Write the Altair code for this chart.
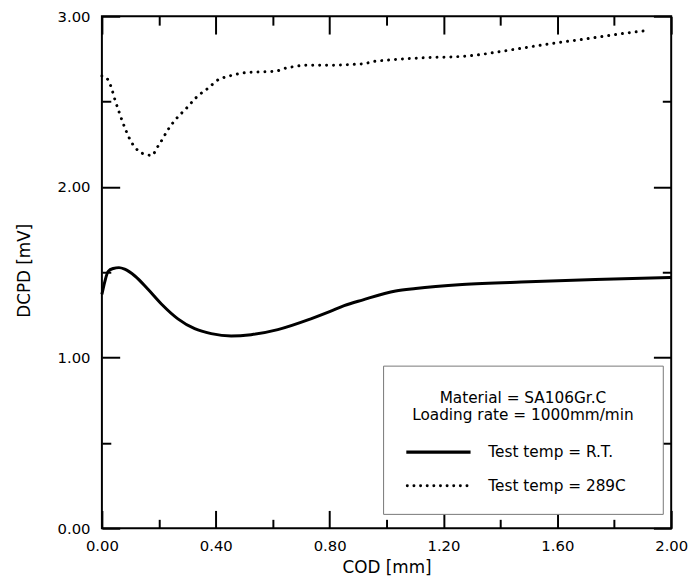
import altair as alt
import pandas as pd

# ---- data ----
cod_rt = [0.0, 0.011, 0.022, 0.04, 0.06, 0.08, 0.116, 0.162, 0.209, 0.267, 0.326,
          0.384, 0.454, 0.524, 0.618, 0.734, 0.80, 0.851, 0.915, 1.032, 1.102,
          1.266, 1.499, 1.733, 2.0]
dcpd_rt = [1.37, 1.45, 1.505, 1.522, 1.527, 1.518, 1.478, 1.40, 1.314, 1.227, 1.169,
           1.14, 1.126, 1.134, 1.164, 1.227, 1.269, 1.304, 1.337, 1.39, 1.405,
           1.428, 1.444, 1.457, 1.469]

cod_289 = [0.0, 0.005, 0.022, 0.032, 0.046, 0.063, 0.081, 0.102, 0.116, 0.133, 0.156,
           0.177, 0.191, 0.205, 0.232, 0.261, 0.297, 0.332, 0.372, 0.413, 0.437,
           0.46, 0.486, 0.512, 0.565, 0.615, 0.641, 0.667, 0.717, 0.80, 0.869,
           0.925, 0.948, 0.997, 1.079, 1.149, 1.231, 1.283, 1.336, 1.406, 1.464,
           1.54, 1.616, 1.686, 1.768, 1.849, 1.919]
dcpd_289 = [2.65, 2.649, 2.626, 2.587, 2.51, 2.426, 2.345, 2.267, 2.233, 2.205, 2.19,
            2.184, 2.223, 2.258, 2.335, 2.399, 2.461, 2.525, 2.577, 2.632, 2.645,
            2.655, 2.665, 2.671, 2.674, 2.68, 2.694, 2.703, 2.713, 2.713, 2.717,
            2.723, 2.733, 2.742, 2.752, 2.758, 2.762, 2.767, 2.777, 2.795, 2.81,
            2.83, 2.849, 2.864, 2.884, 2.903, 2.917]

x_major = [0.0, 0.4, 0.8, 1.2, 1.6, 2.0]
x_minor = [0.2, 0.6, 1.0, 1.4, 1.8]
y_major = [0.0, 1.0, 2.0, 3.0]
y_minor = [0.5, 1.5, 2.5]

x_title = "COD [mm]"
y_title = "DCPD [mV]"
legend_title = ["Material = SA106Gr.C", "Loading rate = 1000mm/min"]
series_labels = ["Test temp = R.T.", "Test temp = 289C"]

# ---- chart ----
W, H = 576, 518
FONT = "DejaVu Sans"
FS_TICK = 15
FS_TITLE = 17
FS_LEG = 15.5

rt = pd.DataFrame({"cod": cod_rt, "dcpd": dcpd_rt})
hot = pd.DataFrame({"cod": cod_289, "dcpd": dcpd_289})
one = pd.DataFrame({"k": [0]})

xs = alt.Scale(domain=[0, 2], nice=False, zero=False)
ys = alt.Scale(domain=[0, 3], nice=False, zero=False)


def tick_axis(orient, values, size, offset):
    return alt.Axis(orient=orient, values=values, tickSize=size, tickWidth=2,
                    tickColor="black", ticks=True, labels=False, domain=False,
                    grid=False, title=None, offset=offset)


def tick_layer(xaxis, yaxis):
    return alt.Chart(rt).mark_line(opacity=0).encode(
        x=alt.X("cod:Q", scale=xs, axis=xaxis),
        y=alt.Y("dcpd:Q", scale=ys, axis=yaxis),
    )


solid = alt.Chart(rt).mark_line(color="black", strokeWidth=3, interpolate="monotone").encode(
    x=alt.X("cod:Q", scale=xs,
            axis=alt.Axis(orient="bottom", values=x_major, format=".2f", title=x_title,
                          ticks=False, tickSize=0, domain=False, grid=False,
                          labelPadding=11, labelFlush=False,
                          titleX=W / 2, titleY=40, titleBaseline="middle")),
    y=alt.Y("dcpd:Q", scale=ys,
            axis=alt.Axis(orient="left", values=y_major, format=".2f", title=y_title,
                          ticks=False, tickSize=0, domain=False, grid=False,
                          labelPadding=12, labelFlush=False,
                          titleX=-78, titleY=H / 2 - 2, titleBaseline="middle",
                          titleAngle=270)),
)

dotted = alt.Chart(hot).mark_line(color="black", strokeWidth=3, strokeDash=[0.01, 7],
                                  strokeCap="round", interpolate="monotone").encode(
    x=alt.X("cod:Q", scale=xs, axis=tick_axis("top", x_major, 18, -H)),
    y=alt.Y("dcpd:Q", scale=ys, axis=tick_axis("right", y_major, 18, -W)),
)

ticks = [
    tick_layer(tick_axis("top", x_minor, 9, -H), tick_axis("right", y_minor, 9, -W)),
    tick_layer(tick_axis("bottom", x_major, 18, -H), tick_axis("left", y_major, 18, -W)),
    tick_layer(tick_axis("bottom", x_minor, 9, -H), tick_axis("left", y_minor, 9, -W)),
]

box = alt.Chart(one).mark_rect(fill="white", stroke="#777777", strokeWidth=1).encode(
    x=alt.value(285), x2=alt.value(568), y=alt.value(354), y2=alt.value(504))


def legend_text(txt, x, y, align):
    return alt.Chart(one).mark_text(align=align, baseline="middle", font=FONT,
                                    fontSize=FS_LEG, color="black").encode(
        x=alt.value(x), y=alt.value(y), text=alt.value(txt))


title1 = legend_text(legend_title[0], 426, 386.5, "center")
title2 = legend_text(legend_title[1], 426, 404, "center")
lab1 = legend_text(series_labels[0], 391, 441, "left")
lab2 = legend_text(series_labels[1], 391, 475.5, "left")

sample1 = alt.Chart(one).mark_rule(color="black", strokeWidth=3.5).encode(
    x=alt.value(308), x2=alt.value(373), y=alt.value(441))
sample2 = alt.Chart(one).mark_rule(color="black", strokeWidth=3, strokeDash=[0.01, 6.7],
                                   strokeCap="round").encode(
    x=alt.value(309), x2=alt.value(370), y=alt.value(475))

chart = alt.layer(
    *ticks, solid, dotted, box, title1, title2, sample1, sample2, lab1, lab2
).resolve_scale(
    x="shared", y="shared"
).resolve_axis(
    x="independent", y="independent"
).properties(
    width=W, height=H,
    background="white",
    autosize=alt.AutoSizeParams(type="none"),
    padding={"left": 95, "top": 5, "right": 17, "bottom": 46},
).configure_view(
    stroke="black", strokeWidth=2
).configure_axis(
    labelFont=FONT, titleFont=FONT, labelFontSize=FS_TICK, titleFontSize=FS_TITLE,
    labelColor="black", titleColor="black", titleFontWeight="normal",
)

chart.save("out.html", embed_options={"renderer": "svg", "actions": False})
